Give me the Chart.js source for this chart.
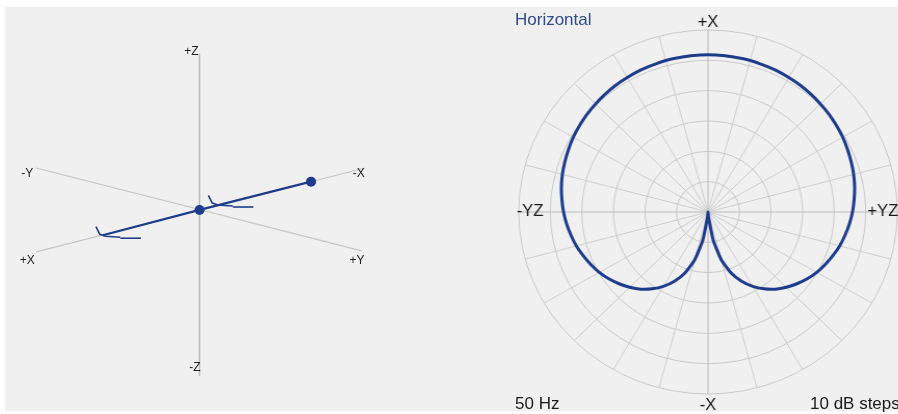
<!DOCTYPE html>
<html>
<head>
<meta charset="utf-8">
<script src="https://cdn.jsdelivr.net/npm/chart.js@4.4.1/dist/chart.umd.min.js"></script>
<style>
  html, body { margin: 0; padding: 0; width: 898px; height: 414px; overflow: hidden; background: #ffffff; }
  #panel { position: absolute; left: 5px; top: 7px; width: 893px; height: 404px; background: #f0f0f0; }
  canvas { position: absolute; top: 0; }
  #axes3d { left: 0; }
  #polar { left: 500px; transform: scaleX(1.04); transform-origin: 208px 50%; }
  .note { position: absolute; font: 17px "Liberation Sans", Arial, sans-serif; line-height: 17px;
          color: #1a1a1a; white-space: nowrap; }
  #title { left: 515px; top: 11px; color: #2e4b8c; }
  #freq { left: 515px; top: 395px; }
  #steps { left: 810px; top: 395px; }
</style>
</head>
<body>
<div id="panel"></div>
<canvas id="axes3d" width="450" height="414"></canvas>
<canvas id="polar" width="398" height="414"></canvas>
<div class="note" id="title"></div>
<div class="note" id="freq"></div>
<div class="note" id="steps"></div>
<script>
// ---------- orientation view (units relative to the origin, y up) ----------
const axisNames = ['+X', '-X', '+Y', '-Y', '+Z', '-Z'];
const axisTipX  = [-167, 169, 166, -167, 0, 0];
const axisTipY  = [-43, 43, -42, 43, 160, -170];

// source line lying on the X axis; markers at the first two points
const sourceX = [114, 0, -99];
const sourceY = [29, 0, -26];

// little direction hooks next to each marker
const hookX = [9, -106];
const hookY = [15, -17];

// ---------- horizontal polar response ----------
const titleText = 'Horizontal';
const freqText  = '50 Hz';
const stepText  = '10 dB steps';

const angleDeg = [0, 5, 10, 15, 20, 25, 30, 35, 40, 45, 50, 55, 60, 65, 70, 75, 80, 85,
  90, 95, 100, 105, 110, 115, 120, 125, 130, 135, 140, 145, 150, 155, 160, 165, 170, 175,
  180, 185, 190, 195, 200, 205, 210, 215, 220, 225, 230, 235, 240, 245, 250, 255, 260, 265,
  270, 275, 280, 285, 290, 295, 300, 305, 310, 315, 320, 325, 330, 335, 340, 345, 350, 355];

const levelDb = [-8.2, -8.2, -8.3, -8.3, -8.5, -8.6, -8.8, -9.0, -9.3, -9.6, -9.9, -10.3,
  -10.7, -11.2, -11.7, -12.2, -12.8, -13.5, -14.2, -15.0, -15.9, -16.8, -17.9, -19.0,
  -20.2, -21.6, -23.2, -24.9, -26.8, -29.1, -31.7, -34.8, -38.6, -43.6, -50.6, -58.5,
  -60.0, -58.5, -50.6, -43.6, -38.6, -34.8, -31.7, -29.1, -26.8, -24.9, -23.2, -21.6,
  -20.2, -19.0, -17.9, -16.8, -15.9, -15.0, -14.2, -13.5, -12.8, -12.2, -11.7, -11.2,
  -10.7, -10.3, -9.9, -9.6, -9.3, -9.0, -8.8, -8.6, -8.5, -8.3, -8.3, -8.2];

const polarAxisNames = ['+X', '+YZ', '-X', '-YZ'];
const dbMin = -60, dbMax = 0, dbStep = 10;

// ---------------------------------------------------------------------------
const BLUE = '#1e3c8c';
const FONT = '"Liberation Sans", Arial, sans-serif';

document.getElementById('title').textContent = titleText;
document.getElementById('freq').textContent = freqText;
document.getElementById('steps').textContent = stepText;

const pt = (x, y) => ({ x, y });

// axis lines: pairs of opposite tips (drawn underneath everything else)
const axisPairs = [[0, 1], [2, 3], [4, 5]];
const axisSets = axisPairs.map(([a, b], k) => ({
  data: [pt(axisTipX[a], axisTipY[a]), pt(axisTipX[b], axisTipY[b])],
  showLine: true,
  borderColor: k === 2 ? '#bcbcbc' : '#c6c6c6',
  borderWidth: k === 2 ? 1.5 : 1.2,
  pointRadius: 0,
  order: 3
}));

const sourceSet = {
  data: sourceX.map((x, i) => pt(x, sourceY[i])),
  showLine: true,
  borderColor: BLUE,
  backgroundColor: BLUE,
  borderWidth: 2.2,
  pointRadius: sourceX.map((_, i) => (i < 2 ? 5 : 0)),
  pointBorderWidth: 0,
  order: 1
};

// hook glyph: a short slanted tick, a foot, and a detached dash
const hookStroke = [[0, 0], [4, -8], [10, -10], [25, -11]];
const hookDash = [[25, -12], [46, -12]];
const hookSets = [];
hookX.forEach((hx, i) => {
  [hookStroke, hookDash].forEach(shape => {
    hookSets.push({
      data: shape.map(([dx, dy]) => pt(hx + dx, hookY[i] + dy)),
      showLine: true,
      borderColor: BLUE,
      borderWidth: 1.6,
      pointRadius: 0,
      order: 2
    });
  });
});

// label offsets from each axis tip (pixels, y down) and alignment
const labelPlacement = [
  [-9, 9, 'center'], [0, 6, 'right'], [-5, 10, 'center'],
  [-9, 6, 'center'], [-1, -2, 'right'], [1, -8, 'right']
];

const axisLabels = {
  id: 'axisLabels',
  afterDatasetsDraw(chart) {
    const { ctx, scales: { x, y } } = chart;
    ctx.save();
    ctx.font = '12px ' + FONT;
    ctx.fillStyle = '#1e1e1e';
    ctx.textBaseline = 'middle';
    axisNames.forEach((name, i) => {
      const [dx, dy, align] = labelPlacement[i];
      ctx.textAlign = align;
      ctx.fillText(name, x.getPixelForValue(axisTipX[i]) + dx, y.getPixelForValue(axisTipY[i]) + dy);
    });
    ctx.restore();
  }
};

new Chart(document.getElementById('axes3d'), {
  type: 'scatter',
  data: { datasets: [...axisSets, ...hookSets, sourceSet] },
  options: {
    responsive: false,
    animation: false,
    layout: { padding: 0 },
    scales: {
      x: { type: 'linear', min: -199, max: 251, display: false },
      y: { type: 'linear', min: -204, max: 210, display: false }
    },
    plugins: { legend: { display: false }, tooltip: { enabled: false } }
  },
  plugins: [axisLabels]
});

// ---------- polar chart ----------
const polarLabels = {
  id: 'polarLabels',
  afterDraw(chart) {
    const { ctx } = chart;
    const r = chart.scales.r;
    const step = angleDeg.length / polarAxisNames.length;
    ctx.save();
    ctx.font = '16px ' + FONT;
    ctx.fillStyle = '#1a1a1a';
    polarAxisNames.forEach((name, k) => {
      const p = r.getPointPosition(k * step, r.drawingArea);
      if (k === 0) { ctx.textAlign = 'center'; ctx.textBaseline = 'alphabetic'; ctx.fillText(name, p.x, p.y - 3); }
      if (k === 1) { ctx.textAlign = 'right'; ctx.textBaseline = 'middle'; ctx.fillText(name, p.x + 1, p.y); }
      if (k === 2) { ctx.textAlign = 'center'; ctx.textBaseline = 'alphabetic'; ctx.fillText(name, p.x, p.y + 16); }
      if (k === 3) { ctx.textAlign = 'left'; ctx.textBaseline = 'middle'; ctx.fillText(name, p.x - 2, p.y); }
    });
    ctx.restore();
  }
};

new Chart(document.getElementById('polar'), {
  type: 'radar',
  data: {
    labels: angleDeg.map(a => a + '°'),
    datasets: [{
      data: levelDb,
      borderColor: BLUE,
      borderWidth: 3,
      pointRadius: 0,
      fill: false,
      tension: 0.15
    }]
  },
  options: {
    responsive: false,
    animation: false,
    layout: { padding: { left: 26, right: 8, top: 30, bottom: 20 } },
    scales: {
      r: {
        min: dbMin,
        max: dbMax,
        ticks: { display: false, stepSize: dbStep },
        grid: { circular: true, color: '#c9c9c9', lineWidth: 1 },
        angleLines: {
          display: true,
          lineWidth: 1,
          color: ctx => (ctx.index % 18 === 0 ? '#b8b8b8' : (ctx.index % 3 === 0 ? '#cdcdcd' : 'rgba(0,0,0,0)'))
        },
        pointLabels: { display: false }
      }
    },
    plugins: { legend: { display: false }, tooltip: { enabled: false } }
  },
  plugins: [polarLabels]
});
</script>
</body>
</html>
